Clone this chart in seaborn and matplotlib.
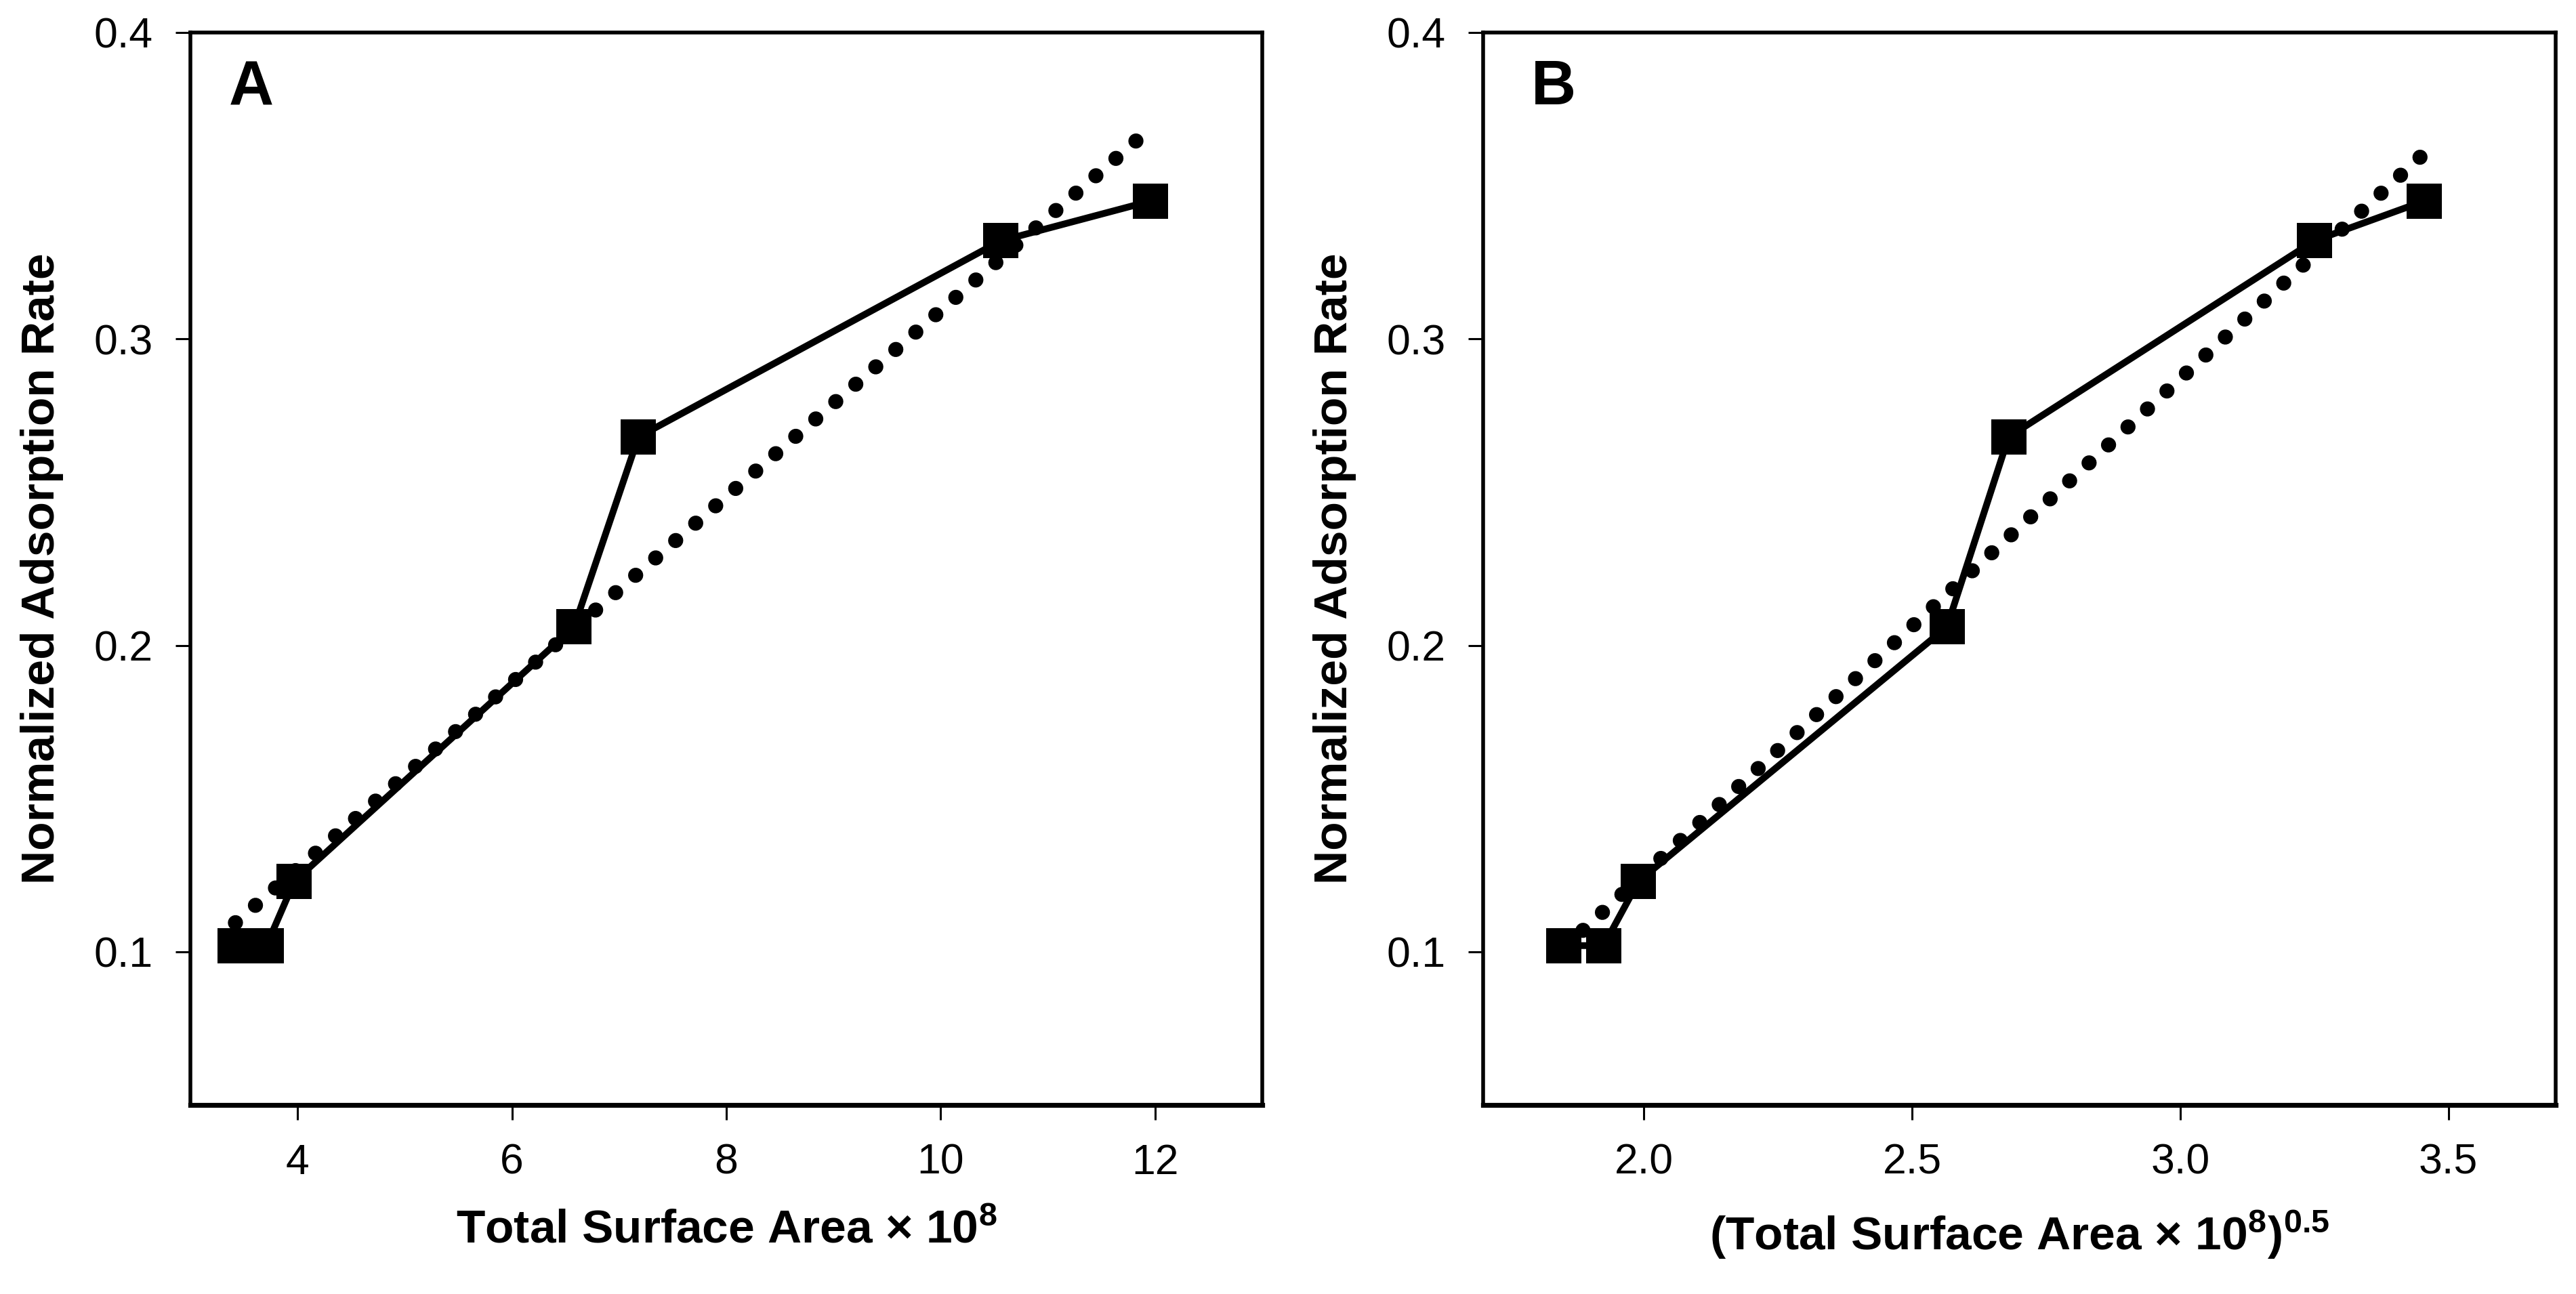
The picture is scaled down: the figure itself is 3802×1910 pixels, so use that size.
import numpy as np
import pandas as pd
import matplotlib
matplotlib.use("Agg")
import matplotlib.pyplot as plt
import seaborn as sns

# values
area_a = [3.42, 3.71, 3.97, 6.58, 7.18, 10.56, 11.96]
area_b = [1.85, 1.925, 1.99, 2.565, 2.68, 3.25, 3.455]
rate = [0.102, 0.102, 0.123, 0.206, 0.268, 0.332, 0.345]

y_ticks = [0.1, 0.2, 0.3, 0.4]
x_ticks_a = [4, 6, 8, 10, 12]
x_ticks_b = [2.0, 2.5, 3.0, 3.5]

df = pd.DataFrame({"area": area_a, "area_sqrt": area_b, "rate": rate})

sns.set_style("ticks")
plt.rcParams["font.family"] = ["Liberation Sans", "DejaVu Sans"]
plt.rcParams["text.color"] = "black"
plt.rcParams["axes.labelcolor"] = "black"
plt.rcParams["mathtext.fontset"] = "custom"
plt.rcParams["mathtext.rm"] = "Liberation Sans"
plt.rcParams["mathtext.bf"] = "Liberation Sans:bold"
plt.rcParams["mathtext.default"] = "bf"

fig = plt.figure(figsize=(19.01, 9.55), dpi=200)
ax_a = fig.add_axes([0.0739, 0.1461, 0.4161, 0.8288])
ax_b = fig.add_axes([0.5757, 0.1461, 0.4164, 0.8288])

panels = [
    (ax_a, "area", (3, 13), x_ticks_a, "A", 0.036,
     r"Total Surface Area × 10$^{8}$"),
    (ax_b, "area_sqrt", (1.7, 3.7), x_ticks_b, "B", 0.045,
     r"(Total Surface Area × 10$^{8}$)$^{0.5}$"),
]

for ax, xcol, xlim, xticks, tag, tag_x, xlabel in panels:
    sns.regplot(
        data=df, x=xcol, y="rate", ax=ax, ci=None, scatter=False,
        line_kws=dict(color="black", lw=8, ls=(0, (0.01, 1.75)),
                      dash_capstyle="round", zorder=2),
    )
    sns.lineplot(
        data=df, x=xcol, y="rate", ax=ax, color="black", lw=3.6,
        marker="s", markersize=19, markeredgewidth=0, zorder=3,
    )
    ax.set_xlim(*xlim)
    ax.set_ylim(0.05, 0.4)
    ax.set_xticks(xticks)
    ax.set_yticks(y_ticks)
    if tag == "B":
        ax.set_xticklabels([f"{t:.1f}" for t in xticks])
    ax.set_yticklabels([f"{t:.1f}" for t in y_ticks])
    ax.tick_params(axis="both", direction="out", length=8, width=1.1,
                   pad=12, labelsize=22.5, color="black", labelcolor="black")
    for side in ["top", "right", "left", "bottom"]:
        ax.spines[side].set_visible(True)
        ax.spines[side].set_linewidth(2.0)
        ax.spines[side].set_color("black")
    ax.spines["bottom"].set_linewidth(2.6)
    ax.set_xlabel(xlabel, fontsize=25, fontweight="bold", labelpad=14,
                  color="black")
    ax.set_ylabel("Normalized Adsorption Rate", fontsize=25,
                  fontweight="bold", labelpad=16, color="black")
    ax.text(tag_x, 0.933, tag, transform=ax.transAxes, fontsize=33,
            fontweight="bold", va="baseline", ha="left", color="black")

fig.savefig("out.png", dpi=200)
